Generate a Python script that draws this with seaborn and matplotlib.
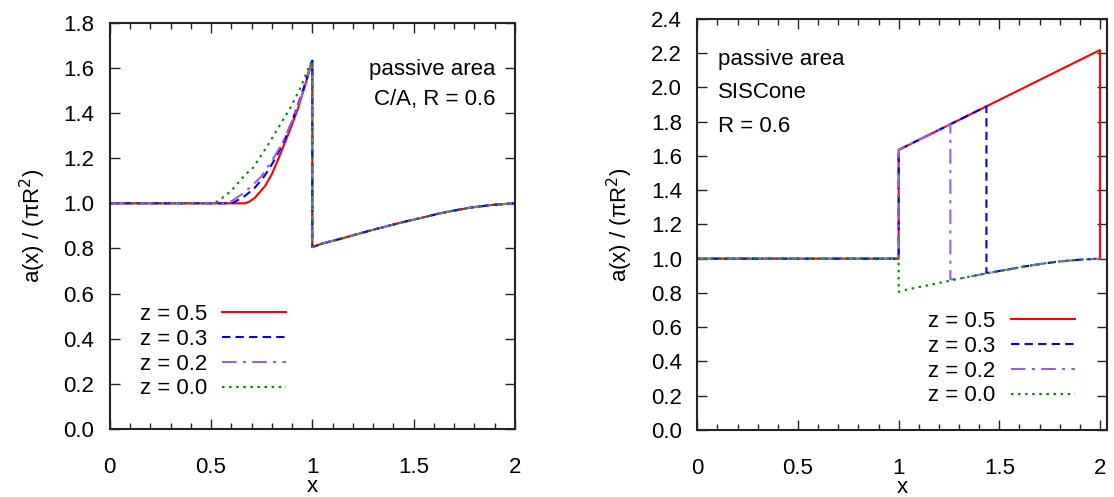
import numpy as np
import pandas as pd
import matplotlib
matplotlib.use("Agg")
import matplotlib.pyplot as plt
import seaborn as sns
from matplotlib.ticker import MultipleLocator, FormatStrFormatter

# values
labels = ["z = 0.5", "z = 0.3", "z = 0.2", "z = 0.0"]
colors = ["#ff0000", "#0000ff", "#9461d1", "#008a00"]
styles = ["-", (0, (4, 2.5)), (0, (7, 3, 1.5, 3)), (0, (1.2, 2.2))]

# common lower branch for x > 1
low_x = [1.0, 1.05, 1.128, 1.2, 1.293, 1.4, 1.458, 1.55, 1.622, 1.7, 1.786, 1.9, 2.0]
low_y = [0.806, 0.822, 0.84, 0.858, 0.881, 0.906, 0.919, 0.938, 0.954, 0.968, 0.982, 0.994, 1.0]

# left panel (C/A), rising part for x < 1
ca_rise_x = {
    "z = 0.5": [0.0, 0.668, 0.69, 0.717, 0.767, 0.800, 0.832, 0.865, 0.898, 0.931, 0.964, 0.997, 1.0],
    "z = 0.3": [0.0, 0.586, 0.61, 0.668, 0.717, 0.758, 0.791, 0.824, 0.865, 0.898, 0.956, 0.994, 1.0],
    "z = 0.2": [0.0, 0.561, 0.602, 0.652, 0.701, 0.75, 0.80, 0.849, 0.898, 0.948, 0.994, 1.0],
    "z = 0.0": [0.0, 0.503, 0.536, 0.599, 0.671, 0.709, 0.775, 0.836, 0.89, 0.939, 0.989, 1.0],
}
ca_rise_y = {
    "z = 0.5": [1.0, 1.0, 1.008, 1.025, 1.077, 1.129, 1.196, 1.27, 1.344, 1.425, 1.521, 1.622, 1.632],
    "z = 0.3": [1.0, 1.0, 1.003, 1.033, 1.07, 1.114, 1.159, 1.21, 1.284, 1.359, 1.507, 1.618, 1.632],
    "z = 0.2": [1.0, 1.0, 1.01, 1.04, 1.077, 1.121, 1.188, 1.262, 1.359, 1.477, 1.618, 1.632],
    "z = 0.0": [1.0, 1.0, 1.01, 1.055, 1.129, 1.159, 1.25, 1.341, 1.421, 1.507, 1.618, 1.632],
}

# right panel (SISCone): upper line, point where each curve drops back
sis_upper_x = [1.0, 2.0]
sis_upper_y = [1.635, 2.218]
sis_drop_x = {"z = 0.5": 2.0, "z = 0.3": 1.436, "z = 0.2": 1.257, "z = 0.0": 1.0}
sis_drop_y = {"z = 0.5": 1.0, "z = 0.3": 0.917, "z = 0.2": 0.879, "z = 0.0": 0.806}
sis_drop_top = {"z = 0.5": 2.218, "z = 0.3": 1.889, "z = 0.2": 1.785, "z = 0.0": 1.0}

plt.rcParams["font.family"] = ["Liberation Sans", "DejaVu Sans"]
plt.rcParams["font.size"] = 16

fig = plt.figure(figsize=(11.14, 4.97), dpi=100)
ax1 = fig.add_axes([0.0985, 0.137, 0.3637, 0.817])
ax2 = fig.add_axes([0.626, 0.135, 0.3677, 0.827])

for lab, col, ls in zip(labels, colors, styles):
    # left
    xs = ca_rise_x[lab] + low_x
    ys = ca_rise_y[lab] + low_y
    df = pd.DataFrame({"x": xs, "y": ys})
    sns.lineplot(data=df, x="x", y="y", ax=ax1, color=col, linestyle=ls, lw=1.5,
                 estimator=None, sort=False, label=lab)

    # right
    dx, dy, top = sis_drop_x[lab], sis_drop_y[lab], sis_drop_top[lab]
    xs = [0.0, 1.0]
    ys = [1.0, 1.0]
    if lab != "z = 0.0":
        xs += [sis_upper_x[0], dx, dx]
        ys += [sis_upper_y[0], top, dy]
    else:
        xs += [dx]
        ys += [dy]
    rest = [(a, b) for a, b in zip(low_x, low_y) if a > dx]
    xs += [a for a, b in rest]
    ys += [b for a, b in rest]
    df = pd.DataFrame({"x": xs, "y": ys})
    sns.lineplot(data=df, x="x", y="y", ax=ax2, color=col, linestyle=ls, lw=1.5,
                 estimator=None, sort=False, label=lab)

for ax, ymax in [(ax1, 1.8), (ax2, 2.4)]:
    ax.set_ylim(0, ymax)
    ax.yaxis.set_major_locator(MultipleLocator(0.2))
    ax.yaxis.set_major_formatter(FormatStrFormatter("%.1f"))
    ax.xaxis.set_minor_locator(MultipleLocator(0.1))
    ax.set_xticks([0, 0.5, 1, 1.5, 2])
    ax.set_xticklabels(["0", "0.5", "1", "1.5", "2"])
    ax.tick_params(which="both", direction="in", top=True, right=True, width=1, color="#222222")
    ax.tick_params(which="major", length=7)
    ax.tick_params(which="minor", length=4)
    ax.tick_params(axis="x", pad=20)
    ax.tick_params(axis="y", pad=11)
    for s in ax.spines.values():
        s.set_linewidth(1.5)
        s.set_color("#222222")
    ax.set_xlabel("x")
    ax.set_ylabel("a(x) / (\u03c0R$^2$)")
    ax.xaxis.set_label_coords(0.5, -0.115)
    ax.yaxis.set_label_coords(-0.152, 0.5)

ax1.set_xlim(0, 2)
ax2.set_xlim(0, 2.035)

ax1.legend(loc="center", bbox_to_anchor=(0.255, 0.19), frameon=False, markerfirst=False,
           handlelength=2.9, handletextpad=0.68, labelspacing=0.17)
ax2.legend(loc="center", bbox_to_anchor=(0.743, 0.173), frameon=False, markerfirst=False,
           handlelength=2.9, handletextpad=0.68, labelspacing=0.17)

ax1.text(0.951, 0.886, "passive area", transform=ax1.transAxes, ha="right", va="center")
ax1.text(0.951, 0.812, "C/A, R = 0.6", transform=ax1.transAxes, ha="right", va="center")
ax2.text(0.05, 0.90, "passive area", transform=ax2.transAxes, ha="left", va="center")
ax2.text(0.05, 0.82, "SISCone", transform=ax2.transAxes, ha="left", va="center")
ax2.text(0.05, 0.737, "R = 0.6", transform=ax2.transAxes, ha="left", va="center")

fig.savefig("out.png", dpi=100)
